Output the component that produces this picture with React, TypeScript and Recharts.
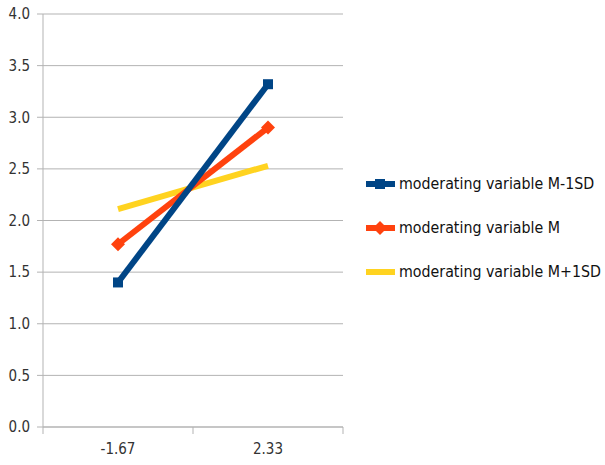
import React from 'react';
import { LineChart, Line, XAxis, YAxis, CartesianGrid } from 'recharts';

const categories = ['-1.67', '2.33'];
const seriesLow = [1.4, 3.32];
const seriesMid = [1.77, 2.9];
const seriesHigh = [2.11, 2.53];
const yTicks = [0, 0.5, 1, 1.5, 2, 2.5, 3, 3.5, 4];

const seriesNames = ['moderating variable M-1SD', 'moderating variable M', 'moderating variable M+1SD'];
const colors = ['#004586', '#ff420e', '#ffd320'];

const data = categories.map((c, i) => ({
  x: i + 0.5,
  label: c,
  low: seriesLow[i],
  mid: seriesMid[i],
  high: seriesHigh[i],
}));

const FONT = '"DejaVu Sans Condensed", "DejaVu Sans", sans-serif';

const XTick = (props: any) => {
  const { x, y, payload } = props;
  const v = payload.value;
  if (Number.isInteger(v)) {
    return <line x1={x} x2={x} y1={y} y2={y + 7} stroke="#b3b3b3" strokeWidth={1} />;
  }
  const idx = Math.floor(v);
  return (
    <text x={x} y={y + 27} textAnchor="middle" fontSize={15} fill="#333" fontFamily={FONT} style={{ fontStretch: 'condensed' }}>
      {categories[idx]}
    </text>
  );
};

const Square = (props: any) => {
  const { cx, cy } = props;
  if (cx == null || cy == null) return null;
  return <rect x={cx - 5} y={cy - 5} width={10} height={10} fill={colors[0]} />;
};

const Diamond = (props: any) => {
  const { cx, cy } = props;
  if (cx == null || cy == null) return null;
  return <polygon points={`${cx},${cy - 7} ${cx + 7},${cy} ${cx},${cy + 7} ${cx - 7},${cy}`} fill={colors[1]} />;
};

const LegendBox = () => (
  <svg width={243} height={130} style={{ position: 'absolute', left: 362, top: 164 }}>
    {seriesNames.map((n, i) => {
      const cy = 20 + i * 44;
      return (
        <g key={n}>
          <line x1={4} x2={33} y1={cy} y2={cy} stroke={colors[i]} strokeWidth={6} />
          {i === 0 && <rect x={13} y={cy - 5} width={10} height={10} fill={colors[0]} />}
          {i === 1 && (
            <polygon points={`18,${cy - 7} 25,${cy} 18,${cy + 7} 11,${cy}`} fill={colors[1]} />
          )}
          <text x={37} y={cy + 5} fontSize={15.8} fill="#111" fontFamily={FONT} style={{ fontStretch: 'condensed' }}>
            {n}
          </text>
        </g>
      );
    })}
  </svg>
);

export default function App() {
  return (
    <div style={{ position: 'fixed', left: 0, top: 0, width: 605, height: 465, background: '#fff' }}>
      <LineChart width={605} height={465} data={data} margin={{ top: 14, right: 262, bottom: 0, left: 0 }}>
        <CartesianGrid vertical={false} stroke="#b3b3b3" strokeWidth={1} />
        <XAxis
          dataKey="x"
          type="number"
          domain={[0, 2]}
          ticks={[0, 0.5, 1, 1.5, 2]}
          tickLine={false}
          tickSize={0}
          tickMargin={0}
          height={38}
          axisLine={{ stroke: '#b3b3b3' }}
          tick={<XTick />}
          interval={0}
        />
        <YAxis
          domain={[0, 4]}
          ticks={yTicks}
          width={43}
          tickSize={6}
          tickMargin={7}
          tickLine={{ stroke: '#b3b3b3' }}
          axisLine={{ stroke: '#b3b3b3' }}
          tickFormatter={(v: number) => v.toFixed(1)}
          tick={{ fontSize: 15, fill: '#333', fontFamily: FONT, style: { fontStretch: 'condensed' } }}
          interval={0}
        />
        <Line dataKey="high" stroke={colors[2]} strokeWidth={6} dot={false} isAnimationActive={false} />
        <Line dataKey="mid" stroke={colors[1]} strokeWidth={6} dot={<Diamond />} isAnimationActive={false} />
        <Line dataKey="low" stroke={colors[0]} strokeWidth={6} dot={<Square />} isAnimationActive={false} />
      </LineChart>
      <LegendBox />
    </div>
  );
}
